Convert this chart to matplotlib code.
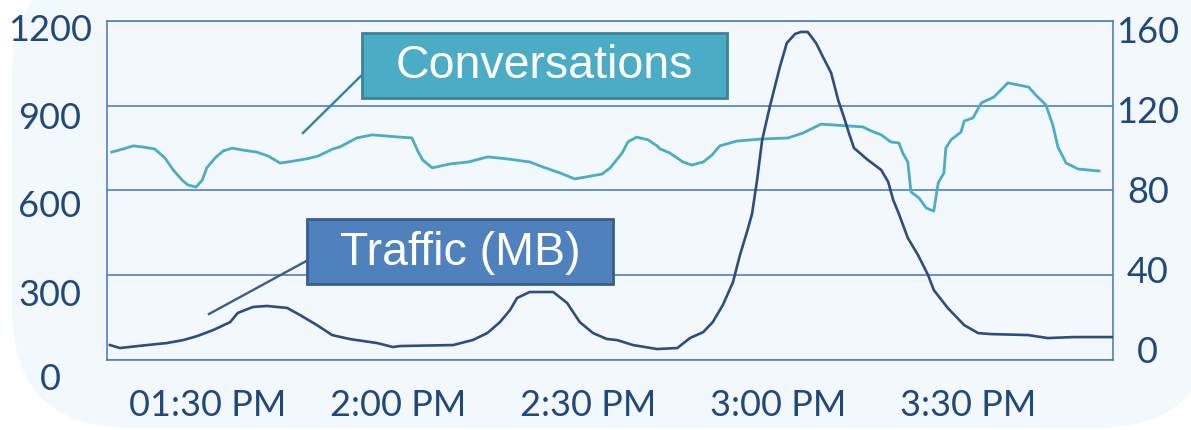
import matplotlib
matplotlib.use("Agg")
import matplotlib.pyplot as plt
import matplotlib.transforms as mtransforms
from matplotlib.patches import Rectangle, FancyBboxPatch
from matplotlib.lines import Line2D

# ---------------- data (minutes after 1:00 PM) ----------------
conv_time = [14.8, 16.6, 18.2, 19.7, 21.6, 23.2, 24.5, 25.9, 26.8, 28.1, 29.1, 29.8,
             31.1, 32.4, 33.8, 35.5, 37.7, 39.5, 41.4, 43.4, 45.6, 47.4, 49.7, 50.8,
             53.5, 55.9, 60.3, 62.2, 63.2, 63.9, 65.4, 68.2, 71.1, 74.2, 77.2, 80.8,
             82.9, 85.6, 87.9, 92.2, 93.5, 95.4, 96.3, 97.7, 99.5, 100.9, 101.4, 102.9,
             105.0, 106.4, 108.2, 109.6, 110.8, 113.5, 117.2, 121.6, 124.0, 126.8,
             133.4, 134.7, 136.3, 137.8, 139.1, 139.7, 140.5, 141.0, 142.3, 143.4,
             144.6, 145.3, 146.2, 146.5, 147.3, 148.9, 149.4, 150.8, 152.1, 154.1,
             156.3, 159.6, 160.7, 162.3, 163.4, 164.2, 165.5, 167.4, 170.7]
conversations = [736, 747, 758, 754, 747, 715, 673, 637, 620, 612, 637, 680,
                 715, 740, 750, 743, 736, 722, 697, 704, 712, 722, 747, 754,
                 786, 797, 789, 786, 736, 708, 680, 694, 701, 719, 712, 701,
                 683, 662, 641, 658, 680, 733, 772, 789, 779, 758, 747, 733,
                 701, 690, 701, 726, 758, 775, 782, 786, 804, 835,
                 825, 811, 797, 772, 768, 733, 701, 595, 573, 538,
                 527, 627, 662, 750, 779, 807, 846, 857, 910, 931,
                 981, 966, 938, 903, 832, 754, 697, 676, 669]

traffic_time = [14.5, 16.1, 20.4, 23.5, 26.1, 28.3, 30.8, 33.5, 34.7, 37.1, 39.3, 42.5,
                44.5, 47.2, 49.6, 52.4, 56.7, 59.2, 60.3, 68.7, 71.8, 74.1, 76.1, 77.7,
                78.8, 80.8, 84.5, 86.7, 88.7, 90.8, 93.0, 94.6, 97.1, 100.9, 104.1,
                106.1, 108.2, 109.7, 111.3, 112.9, 114.0, 115.1, 115.9, 116.7, 117.5,
                118.7, 120.3, 121.4, 122.7, 123.6, 124.7, 126.0, 127.1, 128.4, 129.5,
                130.4, 131.2, 132.0, 134.2, 136.3, 137.4, 138.2, 139.1, 140.5, 142.1,
                143.7, 144.6, 146.8, 149.4, 151.6, 153.6, 159.5, 162.6, 166.7, 172.9]
traffic_mb = [2.0, 0.5, 2.0, 3.0, 4.5, 6.5, 9.5, 13.5, 18.1, 21.1, 21.6, 20.6,
              17.1, 12.0, 7.0, 5.0, 3.0, 1.0, 1.5, 2.0, 4.5, 8.0, 13.5, 19.6,
              25.6, 28.6, 28.6, 23.1, 13.5, 8.0, 5.0, 4.5, 2.0, 0.0, 0.5,
              5.5, 8.5, 13.5, 22.1, 33.6, 47.2, 58.7, 67.7, 84.8, 104.8,
              121.4, 141.5, 153.5, 158.0, 159.0, 159.0, 153.5, 146.5, 138.4, 124.9,
              116.4, 108.3, 100.8, 94.8, 89.8, 83.8, 74.7, 67.7, 55.7, 47.2,
              37.1, 29.6, 20.6, 12.0, 8.0, 7.5, 7.0, 5.5, 6.0, 6.0]

x_ticks = [30, 60, 90, 120, 150]
x_labels = ["01:30 PM", "2:00 PM", "2:30 PM", "3:00 PM", "3:30 PM"]
left_ticks = [0, 300, 600, 900, 1200]
right_ticks = [0, 40, 80, 120, 160]

# ---------------- style ----------------
W, H, DPI = 1191, 430, 100
TXT = "#1F497D"
GRID = "#4F81BD"
CONV_C = "#4BACC6"
TRAF_C = "#2C4D80"
BG = "#F3F8FC"
TICK_SIZE = 26
LEFT_LABEL_SHIFT_PX = [17, 17, 13, 10, 7]   # visual offset of left labels (style)


def fx(px):
    return px / W


def fy(py):
    return 1 - py / H


fig = plt.figure(figsize=(W / DPI, H / DPI), dpi=DPI)
fig.patch.set_facecolor("white")

bg = FancyBboxPatch((fx(12), fy(428)), fx(1215) - fx(12), fy(-40) - fy(428),
                    boxstyle="round,pad=0,rounding_size=0.1",
                    transform=fig.transFigure, fc=BG, ec="none", zorder=-10,
                    mutation_aspect=W / H)
fig.add_artist(bg)

ax = fig.add_axes([fx(107), fy(360), fx(1113) - fx(107), (360 - 21) / H])
ax.set_facecolor("none")
ax.set_xlim(14.05, 172.9)
ax.set_ylim(0, 1200)
ax.set_yticks(left_ticks)
ax.set_xticks(x_ticks)
ax.set_xticklabels(x_labels)
ax.grid(axis="y", color=GRID, lw=1.2)
ax.set_axisbelow(True)
for s in ax.spines.values():
    s.set_color(GRID)
    s.set_linewidth(1.2)

ax.tick_params(axis="both", length=0, colors=TXT)
ax.tick_params(axis="y", pad=41)
ax.tick_params(axis="x", pad=21)
for lab in ax.get_yticklabels():
    lab.set_fontfamily("Lato")
    lab.set_fontsize(TICK_SIZE)
    lab.set_horizontalalignment("center")
for lab in ax.get_xticklabels():
    lab.set_fontfamily("Lato")
    lab.set_fontsize(TICK_SIZE)

ax.plot(conv_time, conversations, color=CONV_C, lw=2.0, solid_joinstyle="round")

ax2 = ax.twinx()
ax2.set_ylim(-5.5, 164.5)
ax2.set_yticks(right_ticks)
for s in ax2.spines.values():
    s.set_visible(False)
ax2.tick_params(axis="y", length=0, colors=TXT, pad=25)
for lab in ax2.get_yticklabels():
    lab.set_fontfamily("Lato")
    lab.set_fontsize(TICK_SIZE)
    lab.set_horizontalalignment("center")
ax2.plot(traffic_time, traffic_mb, color=TRAF_C, lw=1.9, solid_joinstyle="round")

# shift left labels down slightly as in the reference
for t, d in zip(ax.yaxis.get_major_ticks(), LEFT_LABEL_SHIFT_PX):
    off = mtransforms.ScaledTranslation(0, -d / DPI, fig.dpi_scale_trans)
    t.label1.set_transform(t.label1.get_transform() + off)

# ---------------- callouts ----------------
fig.add_artist(Line2D([fx(303), fx(370)], [fy(133), fy(67)], transform=fig.transFigure,
                      color="#31859C", lw=1.7, zorder=4))
fig.add_artist(Rectangle((fx(362), fy(98)), fx(727) - fx(362), fy(33) - fy(98),
                         transform=fig.transFigure, fc=CONV_C, ec="#3A8599", lw=2.0, zorder=5))
fig.text(fx(544), fy(66), "Conversations", color="white", family="Liberation Sans",
         size=33.5, ha="center", va="center", zorder=6)

fig.add_artist(Line2D([fx(209), fx(310)], [fy(314), fy(259)], transform=fig.transFigure,
                      color="#385D8A", lw=1.7, zorder=4))
fig.add_artist(Rectangle((fx(307), fy(284)), fx(613) - fx(307), fy(219) - fy(284),
                         transform=fig.transFigure, fc="#4F81BD", ec="#385D8A", lw=2.0, zorder=5))
fig.text(fx(460), fy(253), "Traffic (MB)", color="white", family="Liberation Sans",
         size=33.5, ha="center", va="center", zorder=6)

fig.savefig("out.png", dpi=DPI, facecolor=fig.get_facecolor())
